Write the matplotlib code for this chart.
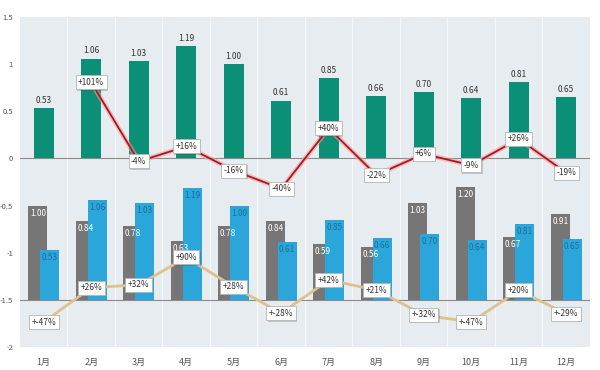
import numpy as np
import matplotlib
matplotlib.use("Agg")
import matplotlib.pyplot as plt
import matplotlib.patheffects as pe

plt.rcParams['font.family'] = ['Noto Sans CJK SC', 'DejaVu Sans']

months = ['1月', '2月', '3月', '4月', '5月', '6月', '7月', '8月', '9月', '10月', '11月', '12月']
this_year = [0.53, 1.06, 1.03, 1.19, 1.00, 0.61, 0.85, 0.66, 0.70, 0.64, 0.81, 0.65]
last_year = [1.00, 0.84, 0.78, 0.63, 0.78, 0.84, 0.59, 0.56, 1.03, 1.20, 0.67, 0.91]
mom_pct = [None, 101, -4, 16, -16, -40, 40, -22, 6, -9, 26, -19]
yoy_pct = [-47, 26, 32, 90, 28, -28, 42, 21, -32, -47, 20, -29]
yoy_txt = ['+-47%', '+26%', '+32%', '+90%', '+28%', '+-28%', '+42%', '+21%',
           '+-32%', '+-47%', '+20%', '+-29%']

base = -1.5          # baseline of the lower panel
mom_scale = 0.8      # upper line: pct -> axis units
yoy_scale = 0.5      # lower line: pct -> axis units

green = '#0b8f77'
grey = '#767676'
blue = '#2ba6da'

fig = plt.figure(figsize=(6, 3.7), dpi=100)
ax = fig.add_axes([0.0333, 0.062, 0.95, 0.892])
ax.set_facecolor('#e7ecf1')

x = np.arange(len(months))
ax.set_xlim(-0.5, len(months) - 0.5)
ax.set_ylim(-2, 1.5)

# category separators
for b in np.arange(0.5, len(months) - 0.5, 1):
    ax.axvline(b, color='#f4f6f8', lw=1.0, zorder=0)

ax.axhline(0, color='#8c8c8c', lw=0.8, zorder=1)
ax.axhline(base, color='#8c8c8c', lw=0.8, zorder=1)

# upper bars
ax.bar(x, this_year, width=0.42, color=green, zorder=2)
for xi, v in zip(x, this_year):
    ax.text(xi, v + 0.085, f'{v:.2f}', ha='center', va='center', fontsize=6,
            color='#333333', zorder=5)

# lower bars
ax.bar(x - 0.125, last_year, width=0.4, bottom=base, color=grey, zorder=2)
ax.bar(x + 0.125, this_year, width=0.4, bottom=base, color=blue, zorder=3)
for xi, v in zip(x, last_year):
    ax.text(xi - 0.125, base + v - 0.08, f'{v:.2f}', ha='center', va='center',
            fontsize=6, color='white', zorder=4)
for xi, v in zip(x, this_year):
    ax.text(xi + 0.125, base + v - 0.08, f'{v:.2f}', ha='center', va='center',
            fontsize=6, color='#1d6f9c', zorder=4)

shadow = [pe.SimplePatchShadow(offset=(1, -1), alpha=0.25), pe.Normal()]

def pct_label(xi, yi, s):
    t = ax.text(xi, yi, s, ha='center', va='center', fontsize=6, color='#333333',
                zorder=8,
                bbox=dict(boxstyle='square,pad=0.3', fc='white', ec='#b5b5b5', lw=0.6))
    t.get_bbox_patch().set_path_effects(shadow)

# month-on-month line
mx = [xi for xi, p in zip(x, mom_pct) if p is not None]
my = [p / 100 * mom_scale for p in mom_pct if p is not None]
ax.plot(mx, my, color='#f0a0a0', lw=3.5, alpha=0.6, zorder=6, solid_capstyle='round')
ax.plot(mx, my, color='#b0141c', lw=1.3, zorder=7)
for xi, yi, p in zip(mx, my, [p for p in mom_pct if p is not None]):
    pct_label(xi, yi, f'{p:+d}%')

# year-on-year line
yy = [base + p / 100 * yoy_scale for p in yoy_pct]
ax.plot(x, yy, color='#dcc28c', lw=2.0, zorder=6)
for xi, yi, s in zip(x, yy, yoy_txt):
    pct_label(xi, yi, s)

ax.set_yticks([1.5, 1, 0.5, 0, -0.5, -1, -1.5, -2])
ax.set_yticklabels(['1.5', '1', '0.5', '0', '-0.5', '-1', '-1.5', '-2'])
ax.set_xticks(x)
ax.set_xticklabels(months)
ax.tick_params(axis='y', length=0, pad=5, labelsize=5.5, labelcolor='#555555')
ax.tick_params(axis='x', length=0, pad=8, labelsize=6.5, labelcolor='#555555')
for s in ax.spines.values():
    s.set_visible(False)

fig.savefig('out.png', dpi=100, facecolor='white')
